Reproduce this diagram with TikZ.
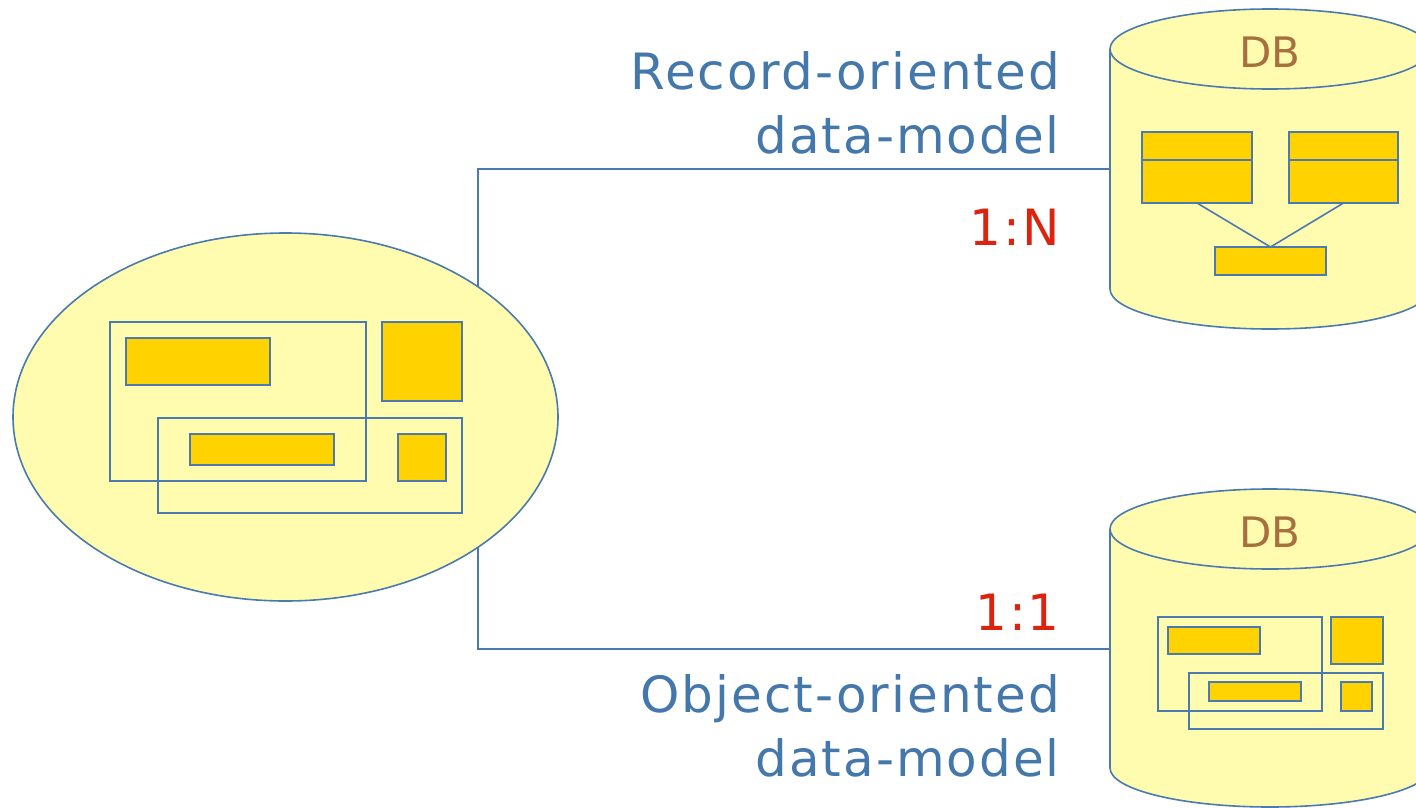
\documentclass[tikz,border=0pt]{standalone}
\usepackage{fontspec}
\setmainfont{DejaVu Sans}
\newfontfamily\labelfont{DejaVu Sans}[LetterSpace=4]
\usetikzlibrary{shapes.geometric}

\definecolor{edgeblue}{HTML}{4A7AAE}
\definecolor{textblue}{HTML}{4477AA}
\definecolor{paleyellow}{HTML}{FFFCB0}
\definecolor{gold}{HTML}{FFD200}
\definecolor{dbbrown}{HTML}{A8703E}
\definecolor{ratiored}{HTML}{DA2410}

\tikzset{
  outline/.style={draw=edgeblue, line width=1.6pt},
  frame/.style={outline},
  solid box/.style={outline, fill=gold},
  recbox/.style={solid box, inner sep=0pt, outer sep=0pt},
  link/.style={draw=edgeblue, line width=1.6pt},
  caption/.style={anchor=base east, inner sep=0pt, text=textblue,
    font=\labelfont\fontsize{50}{60}\selectfont},
  ratio/.style={anchor=base east, inner sep=0pt, text=ratiored,
    font=\labelfont\fontsize{50}{60}\selectfont},
  dblabel/.style={anchor=base, inner sep=0pt, text=dbbrown,
    font=\fontsize{42}{50}\selectfont},
  dbbody/.style={inner sep=0pt, outer sep=0pt, minimum width=320pt, minimum height=240pt}
}

\begin{document}
\begin{tikzpicture}[x=1pt, y=-1pt]
\useasboundingbox (0,0) rectangle (1416,808);

% ---------- application object model ----------
\node[ellipse, outline, fill=paleyellow, minimum width=545pt, minimum height=368pt,
      inner sep=0pt, outer sep=0pt] (app) at (285.5,417) {};
\draw[frame] (110,322) rectangle (366,481);
\draw[solid box] (126,338) rectangle (270,385);
\draw[solid box] (382,322) rectangle (462,401);
\draw[frame] (158,418) rectangle (462,513);
\draw[solid box] (190,434) rectangle (334,465);
\draw[solid box] (398,434) rectangle (446,481);

% ---------- record-oriented database ----------
\node[dbbody] (db1) at (1270,169) {};
\fill[paleyellow] (1110,49) -- (1110,289) arc[start angle=180, end angle=0, x radius=160, y radius=40]
  -- (1430,49) -- cycle;
\draw[outline] (1110,49) -- (1110,289) arc[start angle=180, end angle=0, x radius=160, y radius=40];
\draw[outline, fill=paleyellow] (1270,49) ellipse[x radius=160, y radius=40];
\node[dblabel] (db1label) at (1270,67) {DB};

\node[recbox, minimum width=110pt, minimum height=71pt] (r1) at (1197,167.5) {};
\node[recbox, minimum width=109pt, minimum height=71pt] (r2) at (1343.5,167.5) {};
\node[recbox, minimum width=111pt, minimum height=28pt] (r3) at (1270.5,261) {};
\draw[outline] (r1.west |- 0,160) -- (r1.east |- 0,160);
\draw[outline] (r2.west |- 0,160) -- (r2.east |- 0,160);
\draw[link] (r1.south) -- (r3.north);
\draw[link] (r2.south) -- (r3.north);

% ---------- object-oriented database ----------
\node[dbbody] (db2) at (1270,649) {};
\fill[paleyellow] (1110,529) -- (1110,768) arc[start angle=180, end angle=0, x radius=160, y radius=39]
  -- (1430,529) -- cycle;
\draw[outline] (1110,529) -- (1110,768) arc[start angle=180, end angle=0, x radius=160, y radius=39];
\draw[outline, fill=paleyellow] (1270,529) ellipse[x radius=160, y radius=40];
\node[dblabel] (db2label) at (1270,547) {DB};

\draw[frame] (1158,617) rectangle (1322,711);
\draw[solid box] (1168,627) rectangle (1260,654);
\draw[solid box] (1331,617) rectangle (1383,664);
\draw[frame] (1189,673) rectangle (1383,729);
\draw[solid box] (1209,682) rectangle (1301,701);
\draw[solid box] (1341,682) rectangle (1372,711);

% ---------- mappings ----------
\draw[link] (app.34.07) |- (db1.west);
\draw[link] (app.-34.07) |- (db2.west);

% ---------- labels ----------
\node[caption] (rec1) at (1060,89) {Record-oriented};
\node[caption] (rec2) at (1060,153) {data-model};
\node[ratio] (onen) at (1060,245) {1\kern2pt:\kern2pt N};
\node[ratio] (oneone) at (1060,630) {1\kern2pt:\kern2pt 1};
\node[caption] (obj1) at (1060,712) {Object-oriented};
\node[caption] (obj2) at (1060,776) {data-model};
\end{tikzpicture}
\end{document}
